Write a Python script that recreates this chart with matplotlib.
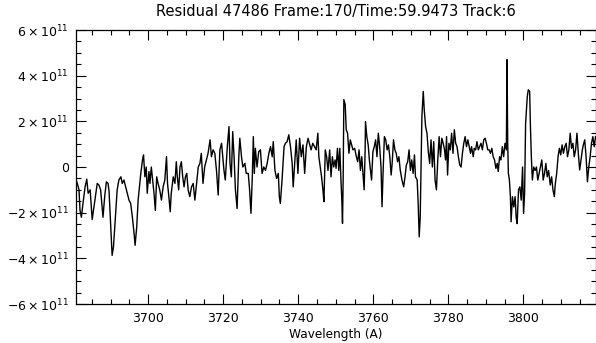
import matplotlib
matplotlib.use("Agg")
import matplotlib.pyplot as plt
from matplotlib.ticker import MultipleLocator, FuncFormatter

# residual spectrum, flux in units of 1e11
wave = [
    3680.88, 3681.15, 3681.60, 3681.87, 3682.23, 3682.77, 3683.22, 3683.67, 3684.03, 3684.57,
    3685.11, 3685.83, 3686.46, 3686.91, 3687.36, 3687.99, 3688.44, 3688.89, 3689.34, 3689.61,
    3690.06, 3690.42, 3690.78, 3691.14, 3691.50, 3691.77, 3692.22, 3692.76, 3693.12, 3693.57,
    3694.02, 3694.47, 3694.92, 3695.37, 3695.82, 3696.27, 3696.54, 3696.99, 3697.35, 3697.71,
    3698.07, 3698.52, 3698.79, 3699.15, 3699.51, 3699.78, 3700.23, 3700.50,
    3700.86, 3701.22, 3701.58, 3701.94, 3702.30, 3702.66, 3703.11, 3703.56, 3704.01, 3704.46,
    3704.91, 3705.18, 3705.54, 3705.90, 3706.17, 3706.71, 3707.16, 3707.52, 3707.79, 3708.15,
    3708.51, 3708.87, 3709.23, 3709.59, 3709.95, 3710.31, 3710.67, 3711.12, 3711.57, 3712.02,
    3712.47, 3712.92, 3713.37, 3713.82, 3714.18, 3714.63, 3715.08, 3715.53, 3715.98, 3716.52,
    3716.88, 3717.33, 3717.78, 3718.23, 3718.68, 3719.13, 3719.58,
    3720.21, 3720.57, 3721.11, 3721.56, 3721.83, 3722.19, 3722.55, 3722.91, 3723.27, 3723.72,
    3724.17, 3724.44, 3724.89, 3725.25, 3725.79, 3726.15, 3726.69, 3727.05, 3727.41, 3727.77,
    3728.04, 3728.31, 3728.58, 3729.03, 3729.48, 3729.93, 3730.38, 3730.83, 3731.28, 3731.73,
    3732.18, 3732.63, 3733.08, 3733.35, 3733.80, 3734.25, 3734.70, 3734.97, 3735.24, 3735.69,
    3736.23, 3736.59, 3737.04, 3737.49, 3737.94, 3738.39, 3738.66, 3739.11, 3739.47,
    3739.92, 3740.37, 3740.82, 3741.27, 3741.72, 3742.17, 3742.62, 3742.98, 3743.43, 3743.88,
    3744.33, 3744.78, 3745.23, 3745.50, 3745.86, 3746.22, 3746.58, 3746.85, 3747.21, 3747.57,
    3747.93, 3748.38, 3748.74, 3749.10, 3749.46, 3749.82, 3750.09, 3750.45, 3750.81, 3751.08,
    3751.35, 3751.62, 3751.80, 3751.98, 3752.16, 3752.52, 3752.79, 3753.15, 3753.51, 3753.87,
    3754.23, 3754.59, 3755.04, 3755.49, 3755.85, 3756.21, 3756.57, 3756.93, 3757.29, 3757.56,
    3757.83, 3757.92, 3758.28, 3758.64, 3759.00, 3759.36,
    3759.54, 3759.90, 3760.26, 3760.62, 3760.98, 3761.34, 3761.70, 3762.06, 3762.33, 3762.60,
    3762.96, 3763.32, 3763.68, 3764.04, 3764.40, 3764.76, 3765.03, 3765.39, 3765.75, 3766.11,
    3766.47, 3766.83, 3767.19, 3767.64, 3768.09, 3768.45, 3768.81, 3769.17, 3769.53, 3769.89,
    3770.25, 3770.61, 3770.97, 3771.24, 3771.69, 3771.96, 3772.23, 3772.50, 3772.68, 3772.95,
    3773.31, 3773.58, 3773.94, 3774.30, 3774.66, 3775.02, 3775.38, 3775.74, 3776.10, 3776.46,
    3776.82, 3777.18, 3777.54, 3777.90, 3778.26, 3778.62,
    3778.98, 3779.25, 3779.52, 3779.79, 3780.15, 3780.51, 3780.87, 3781.23, 3781.59, 3781.95,
    3782.31, 3782.67, 3783.03, 3783.39, 3783.75, 3784.11, 3784.47, 3784.83, 3785.19, 3785.55,
    3785.91, 3786.18, 3786.63, 3786.90, 3787.26, 3787.62, 3787.98, 3788.34, 3788.70, 3789.06,
    3789.42, 3789.78, 3790.14, 3790.50, 3790.86, 3791.22, 3791.58, 3791.94, 3792.30, 3792.66,
    3793.02, 3793.29, 3793.65, 3794.01, 3794.37, 3794.73, 3795.09, 3795.45, 3795.63, 3795.81,
    3795.99, 3796.26, 3796.53, 3796.71, 3797.07, 3797.43, 3797.79, 3798.06, 3798.33, 3798.69,
    3799.05, 3799.41, 3799.77, 3800.04, 3800.31, 3800.58, 3801.03, 3801.30, 3801.66, 3801.84,
    3802.11, 3802.38, 3802.74, 3803.10, 3803.46, 3803.82, 3804.18, 3804.54, 3804.90, 3805.26,
    3805.62, 3805.98, 3806.34, 3806.70, 3807.15, 3807.51, 3807.87, 3808.23, 3808.50, 3808.86,
    3809.22, 3809.58, 3809.94, 3810.30, 3810.66, 3811.02, 3811.38, 3811.74, 3812.10, 3812.46,
    3812.82, 3813.18, 3813.54, 3813.90, 3814.26, 3814.62, 3814.98, 3815.34, 3815.70, 3815.97,
    3816.33, 3816.69, 3817.05, 3817.41, 3817.77, 3818.13, 3818.49, 3818.85, 3819.21,
]

flux = [
    -0.60, -0.72, -1.00, -1.90, -2.20, -1.45, -0.87, -0.53, -1.15, -1.00,
    -2.30, -1.45, -0.72, -0.79, -1.00, -2.20, -1.30, -0.65, -0.72, -1.08,
    -2.60, -3.87, -3.50, -2.60, -1.75, -1.00, -0.57, -0.43, -0.72, -0.57,
    -0.87, -1.15, -1.45, -1.60, -2.20, -2.90, -3.43, -2.60, -1.45, -0.87,
    -0.27, 0.31, 0.53, -0.43, 0.00, -1.15, -0.20, -0.72,
    0.00, -0.57, -1.15, -1.90, -0.43, -0.72, -1.00, -1.45, -0.87, -0.57,
    0.45, -0.72, -1.30, -1.96, -1.16, -0.43, -0.72, 0.23, -0.43, -1.00,
    0.00, 0.23, -0.43, -0.87, -0.43, -0.28, -1.00, -1.30, -0.87, -0.72,
    -1.45, -0.72, 0.00, 0.16, 0.60, -0.72, 0.00, 0.31, 0.60, 1.19,
    0.45, 0.75, 0.60, -0.15, -1.23, 0.75, 1.04,
    -0.13, -0.57, 0.89, 1.77, 0.16, -0.43, 1.55, 0.45, -1.00, -1.82,
    0.45, 1.26, 0.45, 0.00, 0.16, -0.28, -0.28, -1.00, -2.03, -0.43,
    1.33, -0.28, 0.82, 0.00, 0.67, 0.75, -0.28, 0.00, -0.15, 0.16,
    0.60, 0.89, 0.45, 1.11, -0.15, -0.50, -0.28, -1.30, -1.60, -0.57,
    0.89, 1.04, 1.11, 1.41, 0.89, 0.16, -0.87, 0.31, 1.19,
    -0.28, 1.26, 0.45, 0.97, -0.28, 0.89, 1.26, 1.04, 0.75, 1.04,
    0.89, 0.75, 1.48, 0.45, 0.00, -0.43, -1.00, -1.52, 0.75, 0.45,
    -0.15, 0.75, -0.43, 0.45, 0.00, 0.31, -0.06, 0.82, -0.15, 0.82,
    -0.43, -1.45, -2.47, -0.43, 2.95, 2.73, 1.63, 1.48, 0.60, 1.19,
    0.97, 0.75, 0.82, 0.45, 0.23, 0.75, -0.15, 0.45, -0.35, -1.00,
    0.75, 1.99, 1.33, 0.97, 0.23, -0.28,
    -0.57, 0.67, 0.89, 1.19, 0.45, 1.48, 0.89, 0.00, -1.74, -0.28,
    1.33, 1.19, 0.75, 0.97, 0.45, -0.35, 0.16, 1.19, 0.75, 0.60,
    0.23, 0.45, -0.15, -0.57, -0.87, -0.43, 0.09, 0.23, 0.75, -0.15,
    0.31, -0.28, 0.53, -0.43, -0.57, -1.60, -3.06, -2.20, -0.43, 2.21,
    3.31, 2.50, 1.77, 1.48, 0.67, 0.16, 1.19, 0.00, 1.11, -0.57,
    -1.00, 0.31, 1.33, 0.45, 1.26, 1.04,
    0.75, 0.31, 1.33, -0.35, 1.04, 0.75, 1.48, 0.60, 1.63, 1.04,
    0.89, 0.45, 0.09, 0.00, 0.60, 1.04, 1.33, 0.89, 1.19, 0.89,
    0.60, 0.89, 0.45, 0.82, 0.75, 1.11, 0.75, 0.89, 1.04, 0.75,
    1.19, 1.26, 1.04, 0.75, 0.75, 0.60, 0.82, 0.45, 0.31, -0.06,
    0.16, -0.20, 0.45, 0.31, 0.89, 0.45, 1.04, 0.75, 4.70, 1.04,
    -0.28, -0.57, -1.30, -2.40, -1.30, -1.75, -1.30, -2.20, -2.48, -1.00,
    -0.87, -1.45, 0.00, -2.03, -1.16, 1.92, 3.09, 3.38, 3.31, 1.92,
    0.45, -0.57, 0.00, -0.15, 0.00, -0.57, -0.28, 0.00, 0.31, -0.57,
    -0.28, 0.16, -0.43, -0.15, -0.79, -0.43, -1.00, -1.30, -0.72, -0.28,
    0.45, 0.82, 0.53, 0.97, 0.60, 0.89, 1.04, 0.45, 0.75, 1.48,
    0.82, 1.04, 0.45, 0.75, 1.48, 0.60, -0.13, 0.31, 0.75, 0.97,
    1.19, 0.45, -0.65, 0.00, 0.45, 1.04, 1.33, 0.89, 1.33,
]

title = "Residual 47486 Frame:170/Time:59.9473 Track:6"
xlo, xhi = 3680.8, 3819.2
ylo, yhi = -6e11, 6e11

fig = plt.figure(figsize=(5.96, 3.43), dpi=100)
ax = fig.add_axes([76 / 596, 1 - 304 / 343, 519.5 / 596, 274 / 343])

ax.plot(wave, [f * 1e11 for f in flux], color="black", lw=1.0)

ax.set_xlim(xlo, xhi)
ax.set_ylim(ylo, yhi)
ax.xaxis.set_major_locator(MultipleLocator(20))
ax.xaxis.set_minor_locator(MultipleLocator(5))
ax.yaxis.set_major_locator(MultipleLocator(2e11))
ax.yaxis.set_minor_locator(MultipleLocator(0.5e11))


def sci(v, pos):
    if abs(v) < 1:
        return "0"
    m = int(round(v / 1e11))
    return r"$%d\times10^{11}$" % m


ax.yaxis.set_major_formatter(FuncFormatter(sci))
ax.tick_params(which="both", direction="in", top=True, right=True,
               labelsize=9, width=0.8, color="black")
ax.tick_params(which="major", length=7)
ax.tick_params(which="minor", length=3.5)
ax.tick_params(axis="x", which="major", pad=6)
ax.tick_params(axis="y", which="major", pad=5)
for s in ax.spines.values():
    s.set_linewidth(0.9)

ax.set_xlabel("Wavelength (A)", fontsize=8.7, labelpad=2)
ax.set_title(title, fontsize=10.5, pad=10)

fig.savefig("out.png", dpi=100)
